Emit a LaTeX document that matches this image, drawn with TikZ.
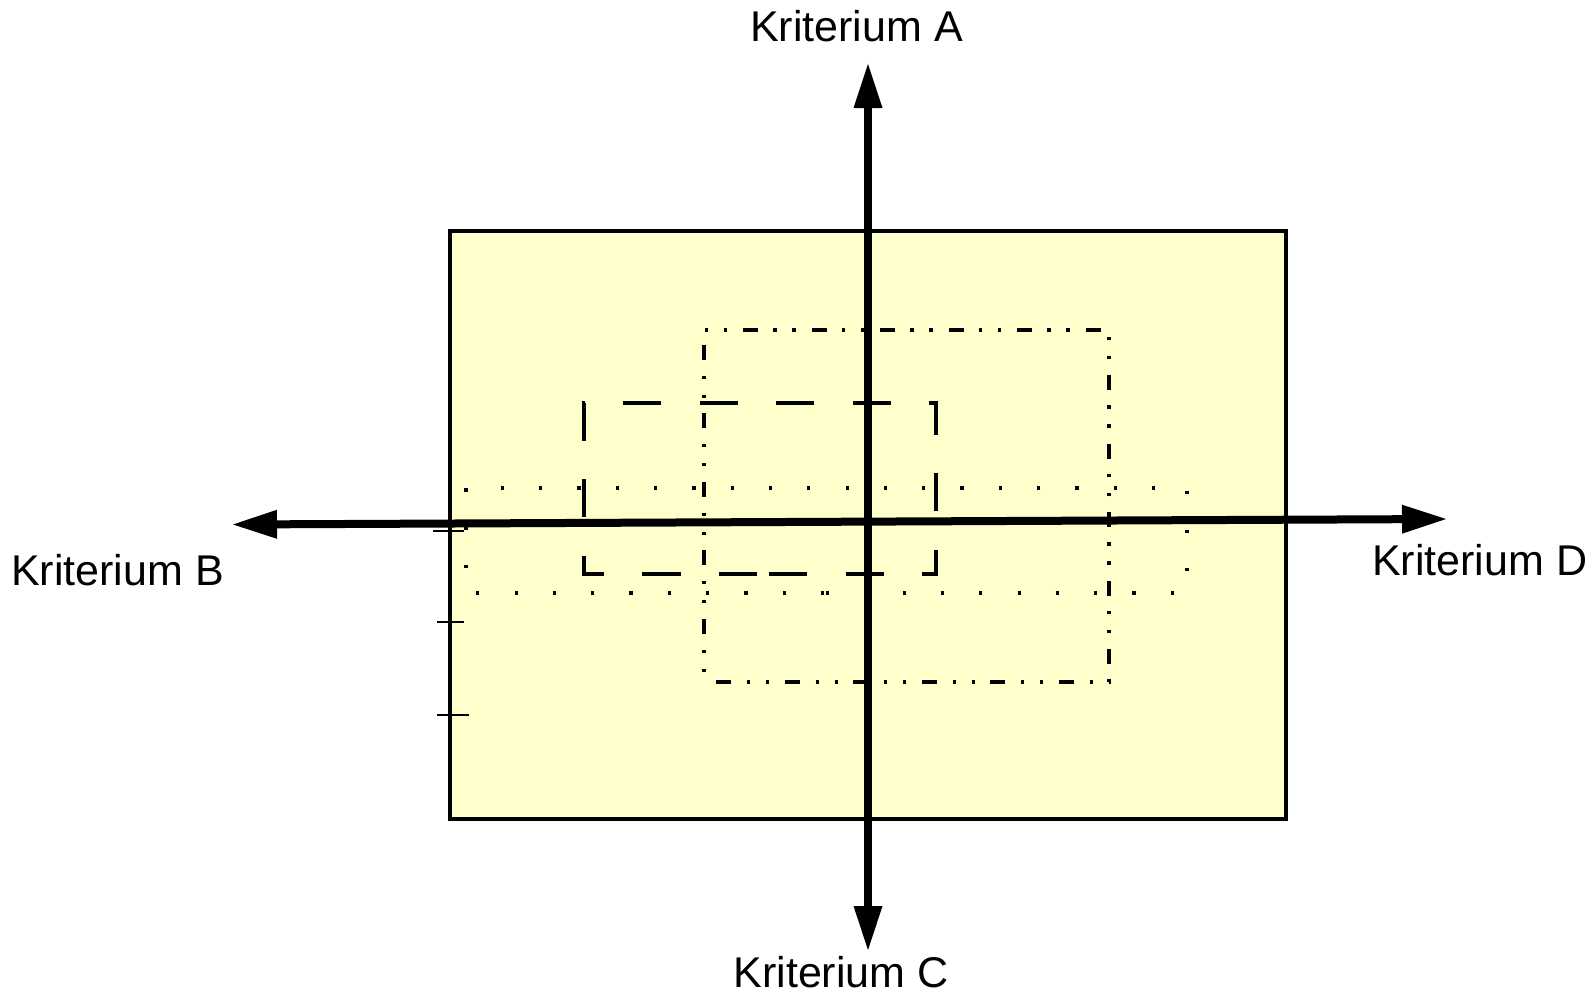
\documentclass[tikz,border=0pt]{standalone}
\usepackage{fontspec}
\setmainfont{Liberation Sans}
\usetikzlibrary{arrows.meta}
\definecolor{boxfill}{HTML}{FFFFCC}
\begin{document}
\begin{tikzpicture}[x=1pt,y=-1pt,
  axisline/.style={line width=8pt,
    {Triangle[length=44pt,width=29pt,line width=0pt]}-{Triangle[length=44pt,width=29pt,line width=0pt]}},
  crit/.style={font=\fontsize{43}{50}\selectfont, inner sep=0pt},
  tickline/.style={line width=1.3pt},
  field/.style={line width=3.5pt, fill=boxfill},
  dotpat/.style={line width=3.2pt, dash pattern=on 3.2pt off 35.1pt},
  dashpat/.style={line width=3.2pt, dash pattern=on 38.3pt off 38.3pt},
  dashdotpat/.style={line width=3.2pt, dash pattern=on 15pt off 16pt on 3.2pt off 15.8pt on 3.2pt off 15.3pt, dash phase=56.5pt}
]
\fill[white] (0,0) rectangle (1589,990);
\useasboundingbox (0,0) rectangle (1589,990);

% field
\draw[field] (450,231) rectangle (1286,819);

% ticks
\coordinate (t1a) at (433,531); \coordinate (t1b) at (464,531);
\coordinate (t2a) at (437,622); \coordinate (t2b) at (464,622);
\coordinate (t3a) at (437,715); \coordinate (t3b) at (469,715);
\draw[tickline] (t1a) -- (t1b);
\draw[tickline] (t2a) -- (t2b);
\draw[tickline] (t3a) -- (t3b);

% dotted rectangle
\draw[dotpat] (826,593) -- (1187,593) -- (1187,488) -- (466,488) -- (466,593) -- cycle;
% dashed rectangle
\draw[dashpat] (769,574) -- (936,574) -- (936,403) -- (584,403) -- (584,574) -- cycle;
% dash-dot-dot rectangle
\draw[dashdotpat] (704,682) -- (1109,682) -- (1109,330) -- (704,330) -- cycle;

% axes
\coordinate (aTop) at (868,64);
\coordinate (aBot) at (868,950);
\coordinate (aLeft) at (233,524.5);
\coordinate (aRight) at (1446,519);
\draw[axisline] (aBot) -- (aTop);
\draw[axisline] (aLeft) -- (aRight);

% labels
\node[crit, anchor=base] (labA) at (856.5,41.7) {Kriterium A};
\node[crit, anchor=base] (labC) at (841,987) {Kriterium C};
\node[crit, anchor=base west] (labB) at (11,585.7) {Kriterium B};
\node[crit, anchor=base west] (labD) at (1372,575.7) {Kriterium D};
\end{tikzpicture}
\end{document}
